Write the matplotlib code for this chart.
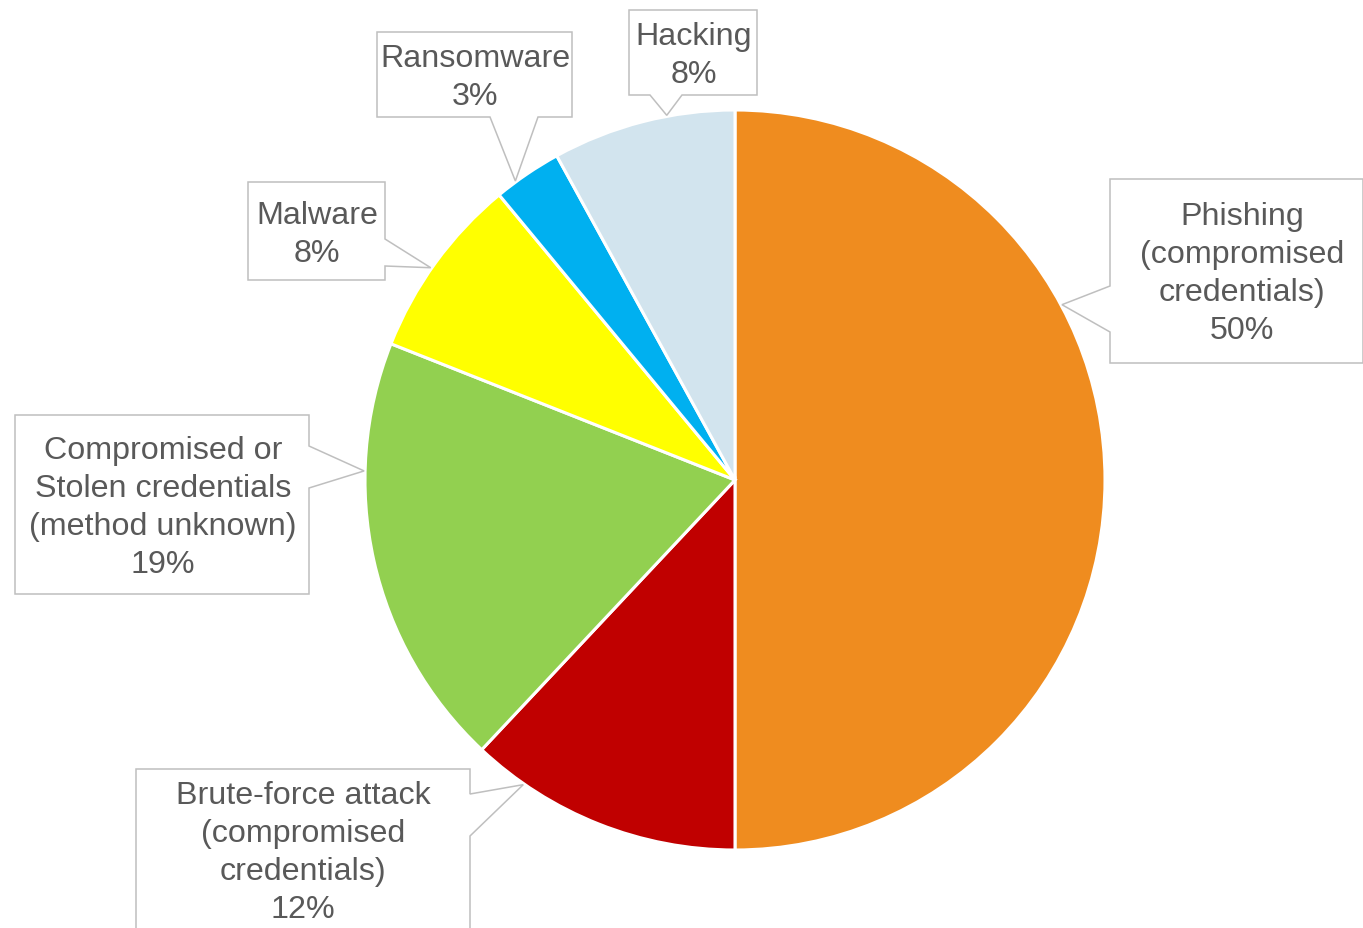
import numpy as np
import matplotlib
matplotlib.use("Agg")
import matplotlib.pyplot as plt
from matplotlib.patches import Polygon

plt.rcParams['font.family'] = ['Liberation Sans', 'DejaVu Sans']

# ---- data ----
labels = ["Phishing\n(compromised\ncredentials)", "Brute-force attack\n(compromised\ncredentials)",
          "Compromised or\nStolen credentials\n(method unknown)", "Malware", "Ransomware", "Hacking"]
values = [50, 12, 19, 8, 3, 8]
colors = ["#EF8C1F", "#C00000", "#92D050", "#FFFF00", "#00B0F0", "#D2E4EE"]

# ---- layout (screen pixels, y down) ----
W, H = 1363, 929
CX, CY, R = 735, 481, 370
# box: (x0, y0, x1, y1), side, (attach a, attach b), tip angle (deg, ccw from right), text center
callouts = [
    dict(box=(1110, 180, 1363, 364), side="left", att=(287, 333), tip=28.2, txt=(1242, 273)),
    dict(box=(136, 770, 470, 960), side="right", att=(795, 837), tip=235.2, txt=(303, 852)),
    dict(box=(15, 416, 309, 595), side="right", att=(447, 489), tip=178.6, txt=(163, 507)),
    dict(box=(248, 183, 385, 281), side="right", att=(240, 267), tip=145.1, txt=(317, 234)),
    dict(box=(377, 33, 572, 118), side="bottom", att=(490, 538), tip=126.3, txt=(475, 77)),
    dict(box=(629, 11, 757, 96), side="bottom", att=(650, 682), tip=100.6, txt=(694, 55)),
]

fig = plt.figure(figsize=(W / 100, H / 100), dpi=100)
ax = fig.add_axes([0, 0, 1, 1])

ax.pie(values, colors=colors, startangle=-90, counterclock=True, center=(CX, CY), radius=R,
       wedgeprops=dict(edgecolor="white", linewidth=2.2))
ax.set_xlim(0, W)
ax.set_ylim(H, 0)
ax.set_aspect("auto")
ax.axis("off")

total = sum(values)
for lab, v, c in zip(labels, values, callouts):
    x0, y0, x1, y1 = c["box"]
    a, b = c["att"]
    ang = np.deg2rad(c["tip"])
    tx, ty = CX + (R + 1) * np.cos(ang), CY - (R + 1) * np.sin(ang)
    if c["side"] == "left":
        pts = [(x0, y0), (x1, y0), (x1, y1), (x0, y1), (x0, b), (tx, ty), (x0, a)]
    elif c["side"] == "right":
        pts = [(x0, y0), (x1, y0), (x1, a), (tx, ty), (x1, b), (x1, y1), (x0, y1)]
    else:  # bottom
        pts = [(x0, y0), (x1, y0), (x1, y1), (b, y1), (tx, ty), (a, y1), (x0, y1)]
    ax.add_patch(Polygon(pts, closed=True, facecolor="white", edgecolor="#BFBFBF",
                         linewidth=1.1, zorder=5))
    pct = f"{round(100 * v / total)}%"
    ax.text(c["txt"][0], c["txt"][1] + 1, f"{lab}\n{pct}", ha="center", va="center",
            fontsize=23.2, color="#595959", linespacing=1.35, zorder=6)

fig.savefig("out.png", dpi=100)
